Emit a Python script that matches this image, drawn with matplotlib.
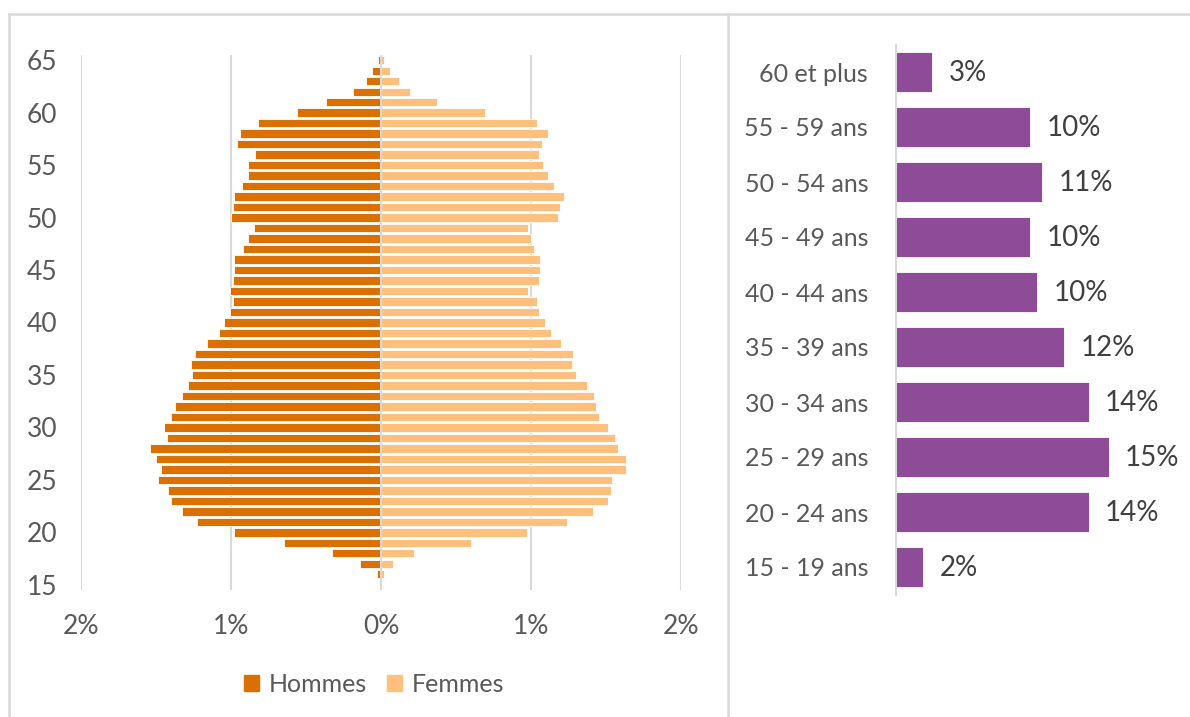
import matplotlib
matplotlib.use('Agg')
import matplotlib.pyplot as plt
from matplotlib.lines import Line2D
from matplotlib.patches import Patch
from matplotlib.ticker import FuncFormatter

plt.rcParams['font.family'] = ['Lato', 'DejaVu Sans']

# pyramid data, age 15 -> 65, % of total
ages = list(range(15, 66))
hommes = [0.0, 0.03, 0.14, 0.33, 0.65, 0.98, 1.23, 1.33, 1.40, 1.42,
          1.49, 1.47, 1.50, 1.54, 1.43, 1.45, 1.40, 1.37, 1.33, 1.29,
          1.26, 1.27, 1.24, 1.16, 1.08, 1.05, 1.01, 0.99, 1.01, 0.99,
          0.98, 0.98, 0.92, 0.89, 0.85, 1.00, 0.99, 0.98, 0.93, 0.89,
          0.89, 0.84, 0.96, 0.94, 0.82, 0.56, 0.37, 0.19, 0.10, 0.06,
          0.02]
femmes = [0.0, 0.02, 0.08, 0.22, 0.60, 0.97, 1.24, 1.41, 1.51, 1.53,
          1.54, 1.63, 1.63, 1.58, 1.56, 1.51, 1.45, 1.43, 1.42, 1.37,
          1.30, 1.27, 1.28, 1.20, 1.13, 1.09, 1.05, 1.04, 0.98, 1.05,
          1.06, 1.06, 1.02, 1.00, 0.98, 1.18, 1.19, 1.22, 1.15, 1.11,
          1.08, 1.05, 1.07, 1.11, 1.04, 0.69, 0.37, 0.19, 0.12, 0.06,
          0.02]

# age groups (bottom -> top)
groupes = ['15 - 19 ans', '20 - 24 ans', '25 - 29 ans', '30 - 34 ans', '35 - 39 ans',
           '40 - 44 ans', '45 - 49 ans', '50 - 54 ans', '55 - 59 ans', '60 et plus']
parts = [1.93, 13.95, 15.4, 13.95, 12.14, 10.19, 9.73, 10.6, 9.73, 2.6]

c_h = '#D97000'
c_f = '#FFC07D'
c_violet = '#8E4B97'
c_grid = '#D9D9D9'
c_txt = '#595959'

W, H = 1190, 717
fig = plt.figure(figsize=(W / 100, H / 100), dpi=100)

# --- pyramide ---
ax1 = fig.add_axes([81 / W, (H - 590) / H, 600 / W, 535 / H])
ax1.barh(ages, [-v for v in hommes], height=0.8, color=c_h, edgecolor='white', linewidth=0.6, zorder=2)
ax1.barh(ages, femmes, height=0.8, color=c_f, edgecolor='white', linewidth=0.6, zorder=2)
ax1.set_xlim(-2, 2)
ax1.set_ylim(14.5, 65.5)
ax1.set_xticks([-2, -1, 0, 1, 2])
ax1.xaxis.set_major_formatter(FuncFormatter(lambda v, p: f'{abs(v):.0f}%'))
ax1.set_yticks(range(15, 66, 5))
for x in [-2, -1, 1, 2]:
    ax1.axvline(x, color=c_grid, lw=1.5, zorder=1)
ax1.axvline(0, color=c_grid, lw=1.5, zorder=3)
for s in ax1.spines.values():
    s.set_visible(False)
ax1.tick_params(axis='both', length=0, labelsize=19, labelcolor=c_txt)
ax1.tick_params(axis='y', pad=17)
ax1.tick_params(axis='x', pad=17)

handles = [Patch(color=c_h, label='Hommes'), Patch(color=c_f, label='Femmes')]
fig.legend(handles=handles, loc='center', bbox_to_anchor=(374 / W, (H - 684) / H),
           ncol=2, frameon=False, fontsize=18, labelcolor=c_txt,
           handlelength=0.6, handleheight=0.6, handletextpad=0.4, columnspacing=0.8)

# --- groupes d'age ---
ax2 = fig.add_axes([896 / W, (H - 594.5) / H, 290 / W, 550 / H])
pos = list(range(len(groupes)))
ax2.barh(pos, parts, height=0.71, color=c_violet, edgecolor='white', linewidth=0.6)
ax2.set_xlim(0, 290 / 13.8)
ax2.set_ylim(-0.5, len(groupes) - 0.5)
ax2.set_yticks(pos)
ax2.set_yticklabels(groupes)
ax2.set_xticks([])
for s in ['top', 'right', 'bottom']:
    ax2.spines[s].set_visible(False)
ax2.spines['left'].set_color(c_grid)
ax2.spines['left'].set_linewidth(1.5)
ax2.tick_params(axis='y', length=0, pad=20, labelsize=18, labelcolor=c_txt)
for p, v in zip(pos, parts):
    ax2.annotate(f'{v:.0f}%', (v, p), xytext=(12, -1), textcoords='offset points',
                 va='center', ha='left', fontsize=20, color='#404040')

# cadres
for xs, ys in [([9, W], [H - 14, H - 14]), ([9, 9], [0, H - 14]), ([728, 728], [0, H - 14])]:
    fig.add_artist(Line2D([x / W for x in xs], [y / H for y in ys], color=c_grid, lw=1.8))

fig.savefig('out.png', dpi=100)
